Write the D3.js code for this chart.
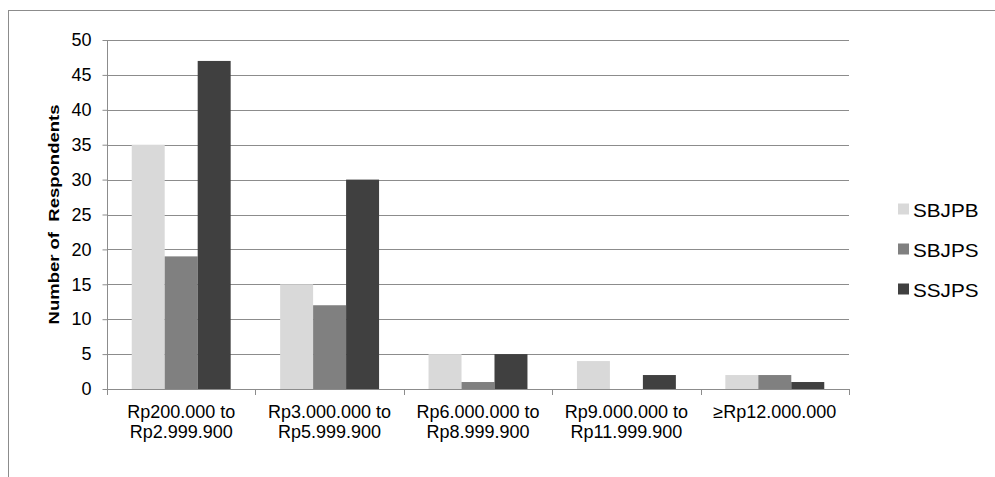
<!DOCTYPE html>
<html>
<head>
<meta charset="utf-8">
<script src="https://cdn.jsdelivr.net/npm/d3@7"></script>
<style>
  html, body { margin: 0; padding: 0; background: #fff; }
  svg { display: block; font-family: "Liberation Sans", Arial, sans-serif; }
</style>
</head>
<body>
<svg id="chart" width="995" height="477"></svg>
<script>
// Income brackets and respondent counts per group
const categories = [
  ["Rp200.000 to", "Rp2.999.900"],
  ["Rp3.000.000 to", "Rp5.999.900"],
  ["Rp6.000.000 to", "Rp8.999.900"],
  ["Rp9.000.000 to", "Rp11.999.900"],
  ["\u2265Rp12.000.000"]
];
const seriesNames = ["SBJPB", "SBJPS", "SSJPS"];
const sbjpb = [35, 15, 5, 4, 2];
const sbjps = [19, 12, 1, 0, 2];
const ssjps = [47, 30, 5, 2, 1];
const yTicks = [0, 5, 10, 15, 20, 25, 30, 35, 40, 45, 50];
const colors = ["#d9d9d9", "#808080", "#404040"];

const seriesValues = [sbjpb, sbjps, ssjps];
const svg = d3.select("#chart");

// Outer frame (runs past the right and bottom edges)
svg.append("rect")
  .attr("x", 8.5).attr("y", 10.5)
  .attr("width", 1000).attr("height", 500)
  .attr("fill", "none").attr("stroke", "#8c8c8c").attr("stroke-width", 1);

const plot = { left: 107, right: 849, top: 40, bottom: 389 };

const x = d3.scaleBand()
  .domain(d3.range(categories.length))
  .range([plot.left, plot.right])
  .paddingInner(0).paddingOuter(0);

const inner = d3.scaleBand()
  .domain(d3.range(seriesNames.length))
  .range([0, x.bandwidth()])
  .paddingOuter(0.75).paddingInner(0);

const y = d3.scaleLinear().domain([0, 50]).range([plot.bottom, plot.top]);

// Horizontal gridlines
svg.append("g")
  .selectAll("line")
  .data(yTicks.filter(t => t > 0))
  .join("line")
  .attr("x1", plot.left).attr("x2", plot.right)
  .attr("y1", d => Math.round(y(d)) + 0.5).attr("y2", d => Math.round(y(d)) + 0.5)
  .attr("stroke", "#8c8c8c").attr("stroke-width", 1);

// Bars
const groups = svg.append("g")
  .selectAll("g")
  .data(seriesValues)
  .join("g")
  .attr("fill", (d, i) => colors[i]);

groups.each(function(vals, si) {
  d3.select(this).selectAll("rect")
    .data(vals)
    .join("rect")
    .attr("x", (d, ci) => x(ci) + inner(si))
    .attr("width", inner.bandwidth())
    .attr("y", d => y(d))
    .attr("height", d => y(0) - y(d));
});

// Y axis
const yAxis = d3.axisLeft(y).tickValues(yTicks).tickSize(5).tickPadding(11);
const gy = svg.append("g")
  .attr("transform", `translate(${plot.left + 0.5},0)`)
  .call(yAxis);
gy.select(".domain").attr("stroke", "#8c8c8c").attr("d", `M0,${plot.top}V${plot.bottom}`);
gy.selectAll(".tick line").attr("stroke", "#8c8c8c");
gy.selectAll(".tick text")
  .attr("fill", "#000").attr("font-size", 18)
  .attr("font-family", "'Liberation Sans', Arial, sans-serif");

// X axis baseline and boundary ticks
svg.append("line")
  .attr("x1", plot.left).attr("x2", plot.right)
  .attr("y1", plot.bottom + 0.5).attr("y2", plot.bottom + 0.5)
  .attr("stroke", "#8c8c8c");
svg.append("g")
  .selectAll("line")
  .data(d3.range(categories.length + 1))
  .join("line")
  .attr("x1", d => Math.round(d < categories.length ? x(d) : plot.right) + 0.5)
  .attr("x2", d => Math.round(d < categories.length ? x(d) : plot.right) + 0.5)
  .attr("y1", plot.bottom).attr("y2", plot.bottom + 6)
  .attr("stroke", "#8c8c8c");

// Category labels
const labels = svg.append("g")
  .selectAll("text")
  .data(categories)
  .join("text")
  .attr("x", (d, i) => x(i) + x.bandwidth() / 2)
  .attr("y", 418)
  .attr("text-anchor", "middle")
  .attr("font-size", 18)
  .attr("fill", "#000");
labels.each(function(lines) {
  d3.select(this).selectAll("tspan")
    .data(lines)
    .join("tspan")
    .attr("x", d3.select(this).attr("x"))
    .attr("dy", (d, i) => i === 0 ? 0 : 20)
    .text(d => d);
});

// Y axis title
svg.append("text")
  .attr("transform", `translate(59,${(plot.top + plot.bottom) / 2}) scale(0.8,1) rotate(-90)`)
  .attr("text-anchor", "middle")
  .attr("font-size", 18.5)
  .attr("font-weight", "bold")
  .attr("fill", "#000")
  .attr("xml:space", "preserve")
  .style("white-space", "pre")
  .text("Number of  Respondents");

// Legend
const legend = svg.append("g")
  .selectAll("g")
  .data(seriesNames)
  .join("g")
  .attr("transform", (d, i) => `translate(898,${209 + i * 40})`);
legend.append("rect")
  .attr("x", 0).attr("y", -5.5).attr("width", 11).attr("height", 11)
  .attr("fill", (d, i) => colors[i]);
legend.append("text")
  .attr("transform", "translate(15,7.5) scale(1.15,1)")
  .attr("font-size", 18)
  .attr("fill", "#000")
  .text(d => d);
</script>
</body>
</html>
